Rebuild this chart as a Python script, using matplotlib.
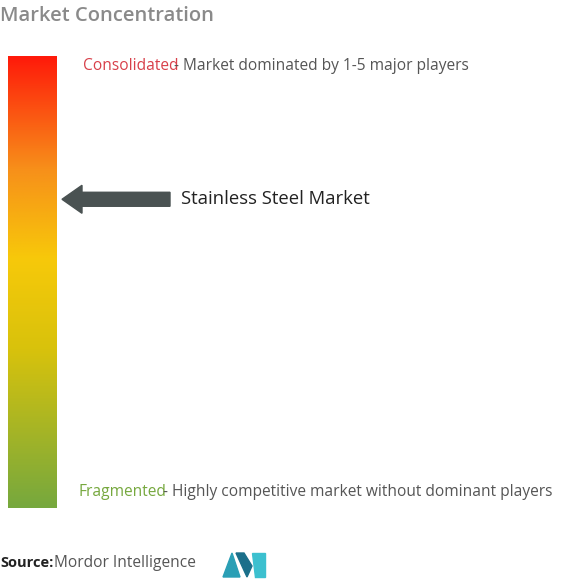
import numpy as np
import matplotlib.pyplot as plt
from matplotlib.colors import LinearSegmentedColormap
from matplotlib.patches import Polygon

title = "Market Concentration"
market = "Stainless Steel Market"
market_level = 0.683  # fraction from bottom (fragmented=0, consolidated=1)
grad_stops = [0.0, 0.35, 0.55, 0.75, 1.0]
grad_colors = ["#76a83e", "#d8c20c", "#f7c90a", "#f7901a", "#ff1a0a"]

W, H = 564, 580
fig = plt.figure(figsize=(W/100, H/100), dpi=100)
ax = fig.add_axes([0, 0, 1, 1])
ax.set_xlim(0, W); ax.set_ylim(H, 0); ax.axis('off')

cmap = LinearSegmentedColormap.from_list("c", list(zip(grad_stops, grad_colors)))
grad = np.linspace(1, 0, 256).reshape(-1, 1)
x0, x1, y0, y1 = 8, 57, 56, 508
ax.imshow(grad, cmap=cmap, aspect='auto', extent=[x0, x1, y1, y0], vmin=0, vmax=1)

ax.text(0, 16, title, fontsize=14.5, color="#8a8a8a", va='center', ha='left', family='Open Sans', fontweight='semibold')
ax.text(83, 66, "Consolidated", fontsize=11.2, color="#d8404a", va='center', family='Open Sans')
ax.text(174, 66, "- Market dominated by 1-5 major players", fontsize=11.2, color="#555555", va='center', family='Open Sans')
ax.text(78, 492, "Fragmented", fontsize=11.2, color="#76a83e", va='center', family='Open Sans')
ax.text(163, 492, "- Highly competitive market without dominant players", fontsize=11.2, color="#555555", va='center', family='Open Sans')

ya = y1 - market_level * (y1 - y0)
ax.add_patch(Polygon([(170, ya-7), (82, ya-7), (82, ya-14), (62, ya), (82, ya+14), (82, ya+7), (170, ya+7)],
                     closed=True, color="#4a5252"))
ax.text(181, ya, market, fontsize=13.3, color="#222222", va='center', family='Open Sans')

ax.text(0, 563, "Source:", fontsize=10.5, color="#222222", va='center', fontweight='bold', family='Open Sans')
ax.text(54, 563, "Mordor Intelligence", fontsize=11.2, color="#555555", va='center', family='Open Sans')
ax.add_patch(Polygon([(223, 577), (232, 553), (240, 577)], color="#2a9fb5"))
ax.add_patch(Polygon([(236, 553), (247, 577), (252, 566), (244, 553)], color="#1b6f8a"))
ax.add_patch(Polygon([(252, 553), (265, 553), (265, 577), (255, 577)], color="#3cc0cf"))
fig.savefig("out.png", dpi=100)
